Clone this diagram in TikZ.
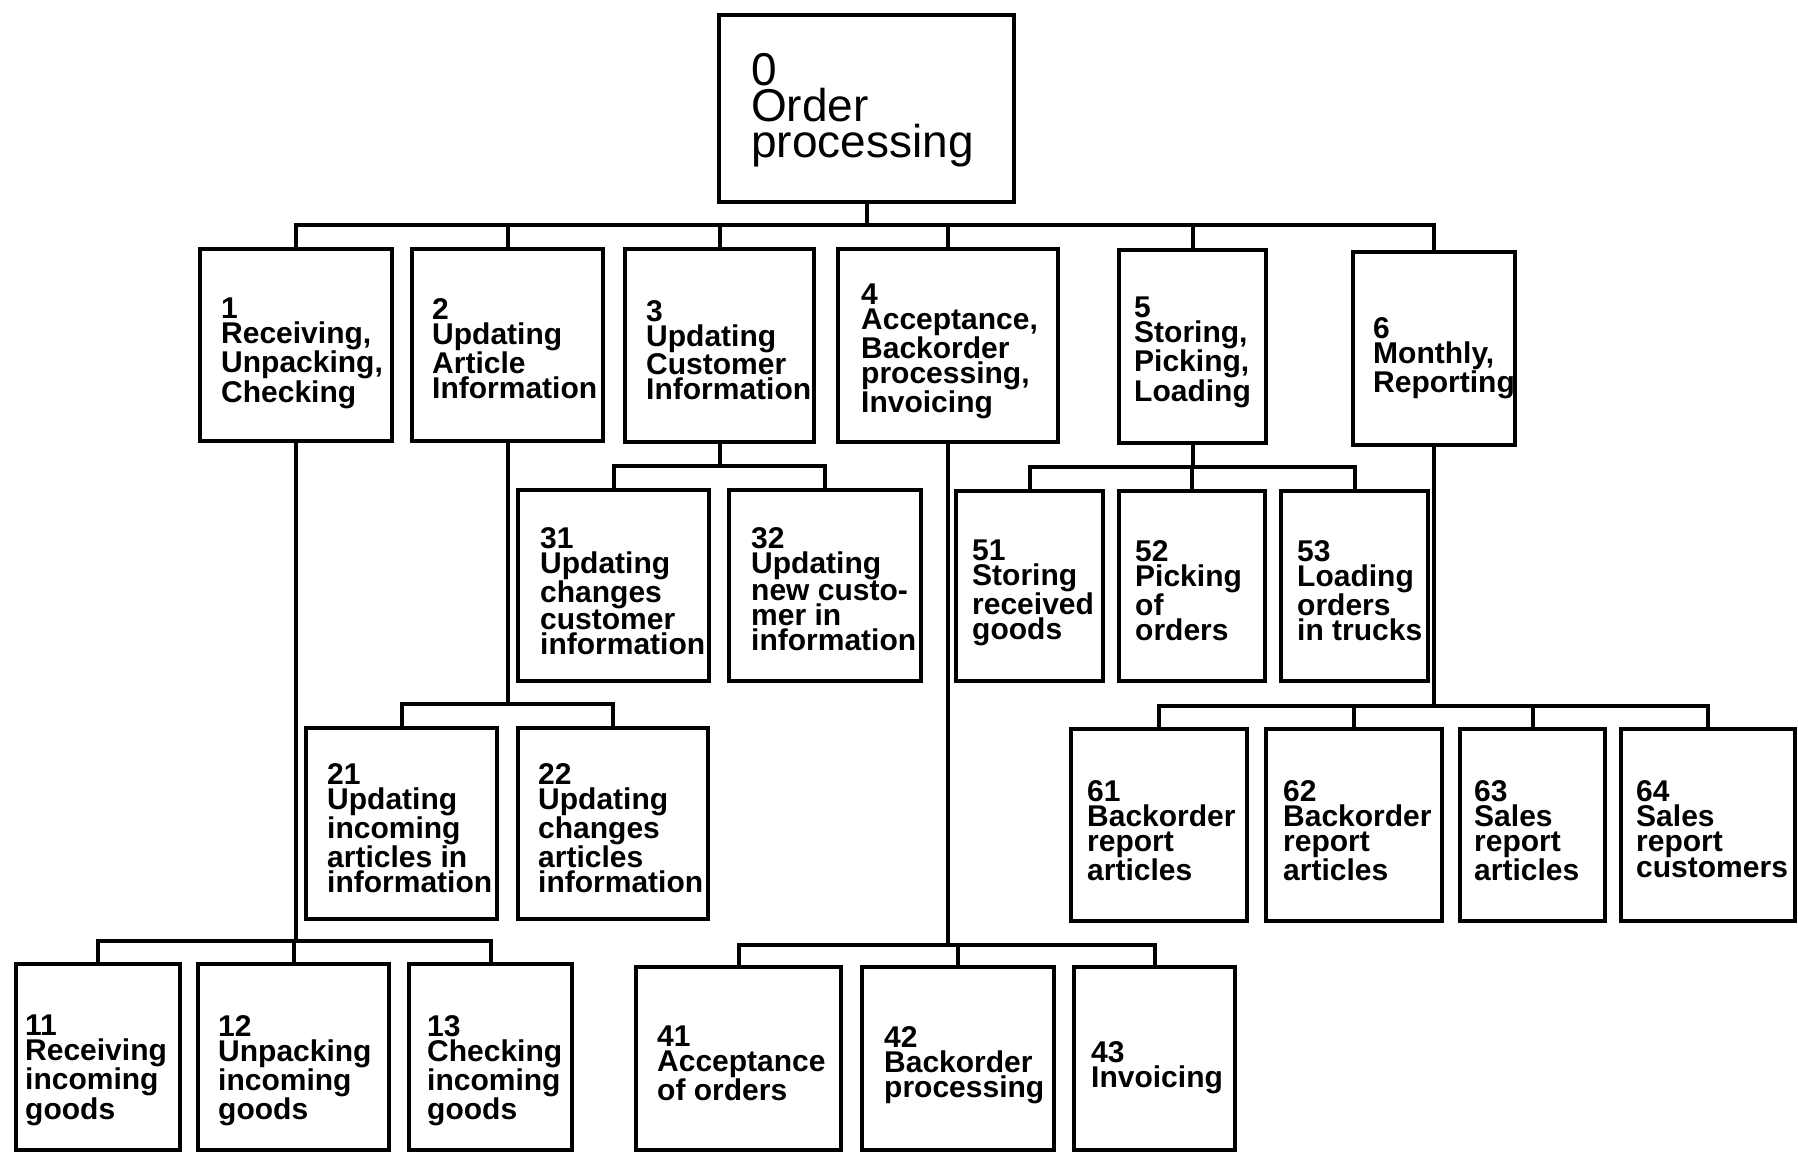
\documentclass[tikz,border=0pt]{standalone}
\usepackage{fontspec}
\setmainfont{Liberation Sans}
\begin{document}
\begin{tikzpicture}[x=1pt,y=-1pt,
  box/.style={draw=black,line width=4.5pt,rectangle,inner sep=0pt,outer sep=0pt},
  conn/.style={draw=black,line width=4pt},
  txt/.style={anchor=north west,inner sep=0pt,align=left,font=\bfseries\fontsize{30pt}{25pt}\selectfont},
  bigtxt/.style={anchor=north west,inner sep=0pt,align=left,font=\fontsize{46pt}{36pt}\selectfont}]
\useasboundingbox (0,0) rectangle (1798,1154);
\fill[white] (0,0) rectangle (1798,1154);
% boxes: \bx{name}{left}{top}{right}{bottom}
\newcommand\bx[5]{\node[box,minimum width={#4-#2},minimum height={#5-#3}] (#1) at ({(#2+#4)/2},{(#3+#5)/2}) {};}
\bx{n0}{719}{15}{1014}{202}
\bx{n1}{200}{249}{392}{441}
\bx{n2}{412}{249}{603}{441}
\bx{n3}{625}{249}{814}{442}
\bx{n4}{838}{249}{1058}{442}
\bx{n5}{1119}{250}{1266}{443}
\bx{n6}{1353}{252}{1515}{445}
\bx{n31}{518}{490}{709}{681}
\bx{n32}{729}{490}{921}{681}
\bx{n51}{956}{491}{1103}{681}
\bx{n52}{1119}{491}{1265}{681}
\bx{n53}{1281}{491}{1428}{681}
\bx{n21}{306}{728}{497}{919}
\bx{n22}{518}{728}{708}{919}
\bx{n61}{1071}{729}{1247}{921}
\bx{n62}{1266}{729}{1442}{921}
\bx{n63}{1460}{729}{1605}{921}
\bx{n64}{1621}{729}{1795}{921}
\bx{n11}{16}{964}{180}{1150}
\bx{n12}{198}{964}{389}{1150}
\bx{n13}{409}{964}{572}{1150}
\bx{n41}{636}{967}{841}{1150}
\bx{n42}{862}{967}{1054}{1150}
\bx{n43}{1074}{967}{1235}{1150}
% texts
\node[bigtxt] (t0) at (751,53) {0\\Order\\processing};
\node[txt] (t1) at (221,298) {1\\Receiving,\\Unpacking,\\Checking};
\node[txt] (t2) at (432,298) {2\\Updating\\Article\\Information};
\node[txt] (t3) at (646,300) {3\\Updating\\Customer\\Information};
\node[txt] (t4) at (861,284) {4\\Acceptance,\\Backorder\\processing,\\Invoicing};
\node[txt] (t5) at (1134,297) {5\\Storing,\\Picking,\\Loading};
\node[txt] (t6) at (1373,317) {6\\Monthly,\\Reporting};
\node[txt] (t31) at (540,527) {31\\Updating\\changes\\customer\\information};
\node[txt] (t32) at (751,527) {32\\Updating\\new custo-\\mer in\\information};
\node[txt] (t51) at (972,540) {51\\Storing\\received\\goods};
\node[txt] (t52) at (1135,540) {52\\Picking\\of\\orders};
\node[txt] (t53) at (1297,540) {53\\Loading\\orders\\in trucks};
\node[txt] (t21) at (327,763) {21\\Updating\\incoming\\articles in\\information};
\node[txt] (t22) at (538,763) {22\\Updating\\changes\\articles\\information};
\node[txt] (t61) at (1087,780) {61\\Backorder\\report\\articles};
\node[txt] (t62) at (1283,780) {62\\Backorder\\report\\articles};
\node[txt] (t63) at (1474,780) {63\\Sales\\report\\articles};
\node[txt] (t64) at (1636,780) {64\\Sales\\report\\customers};
\node[txt] (t11) at (25,1015) {11\\Receiving\\incoming\\goods};
\node[txt] (t12) at (218,1015) {12\\Unpacking\\incoming\\goods};
\node[txt] (t13) at (427,1015) {13\\Checking\\incoming\\goods};
\node[txt] (t41) at (657,1026) {41\\Acceptance\\of orders};
\node[txt] (t42) at (884,1026) {42\\Backorder\\processing};
\node[txt] (t43) at (1091,1041) {43\\Invoicing};
% bus coordinates
\coordinate (b0) at (866.5,225);
\coordinate (b3) at (719.5,466);
\coordinate (b5) at (1192.5,467);
\coordinate (b2) at (507.5,704);
\coordinate (b6) at (1434,706);
\coordinate (b1) at (296,941);
\coordinate (b4) at (948,945);
% connectors
\draw[conn] (n0.south) -- (b0);
\foreach \c in {n1,n2,n3,n4,n5,n6} \draw[conn] (b0) -| (\c.north);
\draw[conn] (n3.south) -- (b3);
\foreach \c in {n31,n32} \draw[conn] (b3) -| (\c.north);
\draw[conn] (n5.south) -- (b5);
\foreach \c in {n51,n52,n53} \draw[conn] (b5) -| (\c.north);
\draw[conn] (n2.south) -- (b2);
\foreach \c in {n21,n22} \draw[conn] (b2) -| (\c.north);
\draw[conn] (n6.south) -- (b6);
\foreach \c in {n61,n62,n63,n64} \draw[conn] (b6) -| (\c.north);
\draw[conn] (n1.south) -- (b1);
\foreach \c in {n11,n12,n13} \draw[conn] (b1) -| (\c.north);
\draw[conn] (n4.south) -- (b4);
\foreach \c in {n41,n42,n43} \draw[conn] (b4) -| (\c.north);
\end{tikzpicture}
\end{document}
